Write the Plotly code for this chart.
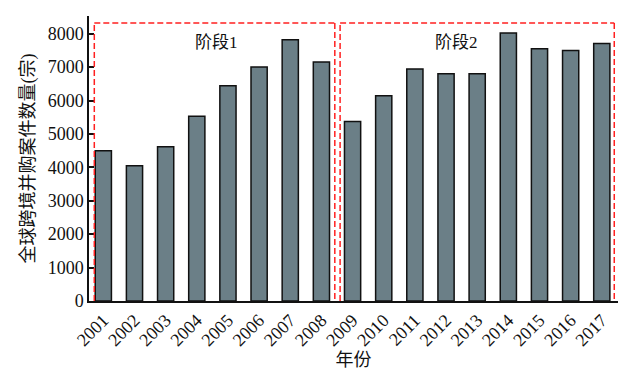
import plotly.graph_objects as go

years = ["2001", "2002", "2003", "2004", "2005", "2006", "2007", "2008", "2009",
         "2010", "2011", "2012", "2013", "2014", "2015", "2016", "2017"]
deals = [4500, 4050, 4620, 5530, 6440, 7000, 7820, 7150, 5370,
         6140, 6940, 6800, 6800, 8020, 7550, 7500, 7710]
stage_labels = ["阶段1", "阶段2"]
stage_label_x = [3.63, 11.33]
stage_label_y = [7750, 7750]
stage_boxes = [(-0.29, 7.43), (7.60, 16.40)]
box_top = 8320

serif = "Liberation Serif, Times New Roman, Noto Sans CJK SC, serif"
cjk = "Liberation Serif, Noto Sans CJK SC, serif"

fig = go.Figure()
fig.add_trace(go.Bar(
    x=list(range(len(years))), y=deals, width=0.52,
    marker=dict(color="#6b7f87", line=dict(color="#111111", width=1.5)),
))

red = dict(color="#ff2020", width=1.5, dash="6px,3px")
for x0, x1 in stage_boxes:
    for (ax, ay, bx, by) in [(x0, 0, x0, box_top), (x0, box_top, x1, box_top), (x1, box_top, x1, 0)]:
        fig.add_shape(type="line", xref="x", yref="y", x0=ax, y0=ay, x1=bx, y1=by,
                      line=red, layer="above")

for t, xx, yy in zip(stage_labels, stage_label_x, stage_label_y):
    fig.add_annotation(x=xx, y=yy, text=t, showarrow=False, xref="x", yref="y",
                       font=dict(family=cjk, size=17, color="#111111"))

fig.update_layout(
    width=620, height=363,
    margin=dict(l=81, r=10, t=8, b=70),
    plot_bgcolor="white", paper_bgcolor="white",
    showlegend=False,
    xaxis=dict(
        tickmode="array", tickvals=list(range(len(years))), ticktext=years,
        range=[-0.46, 16.52], tickangle=-45, automargin=False,
        showline=True, linecolor="#111111", linewidth=1.5,
        showgrid=False, zeroline=False, ticks="",
        tickfont=dict(family=serif, size=18, color="#111111"),
        title=dict(text="年份", font=dict(family=cjk, size=18, color="#111111"), standoff=2),
    ),
    yaxis=dict(
        range=[0, 8530], tickvals=[0, 1000, 2000, 3000, 4000, 5000, 6000, 7000, 8000],
        automargin=False,
        showline=True, linecolor="#111111", linewidth=1.5,
        showgrid=False, zeroline=False,
        ticks="inside", ticklen=5, tickwidth=1.5, tickcolor="#111111",
        tickfont=dict(family=serif, size=18, color="#111111"),
        title=dict(text="全球跨境并购案件数量(宗)", font=dict(family=cjk, size=18, color="#111111"), standoff=8),
    ),
)

fig.write_html("out.html")
